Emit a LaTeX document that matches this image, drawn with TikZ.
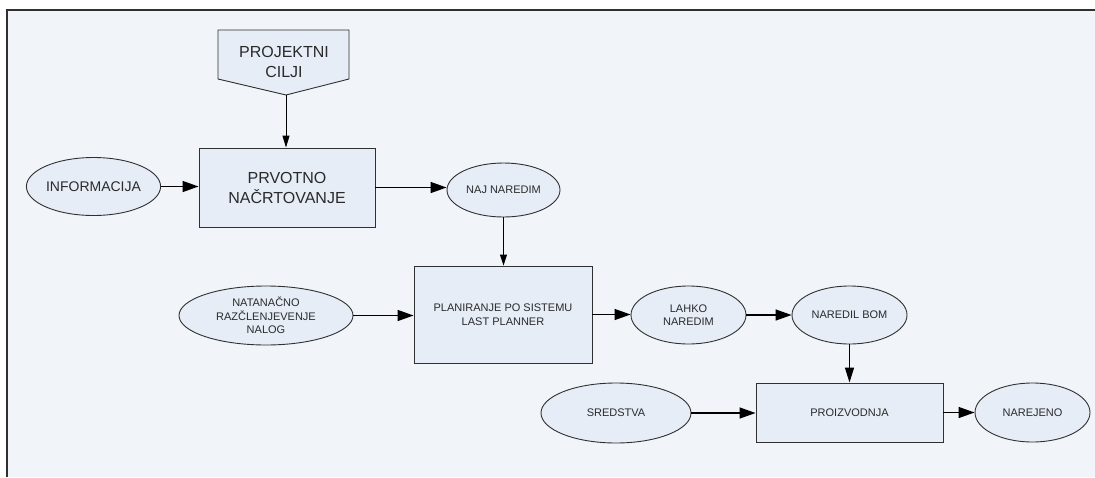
\documentclass[tikz,border=0pt]{standalone}
\usepackage{fontspec}
\setmainfont{Liberation Sans}
\usetikzlibrary{shapes.geometric,arrows.meta}
\definecolor{paper}{HTML}{F1F4F9}
\definecolor{shapefill}{HTML}{E6EDF7}
\definecolor{edge}{HTML}{303030}
\definecolor{ink}{HTML}{2A2A2A}
\tikzset{
  procbox/.style={draw=edge, line width=0.9pt, fill=shapefill, rectangle,
    inner sep=0pt, align=center, text=ink},
  oval/.style={draw=edge, line width=0.9pt, fill=shapefill, ellipse,
    inner sep=0pt, align=center, text=ink},
  bigtext/.style={font=\fontsize{16}{20}\selectfont},
  midtext/.style={font=\fontsize{14}{17}\selectfont},
  smalltext/.style={font=\fontsize{11}{13.5}\selectfont},
  flow/.style={draw=black, line width=1.4pt,
    -{Triangle[length=16pt,width=11pt]}},
  thinflow/.style={draw=black, line width=0.9pt,
    -{Triangle[length=11pt,width=7pt]}},
  downflow/.style={draw=black, line width=1.4pt,
    -{Triangle[length=15pt,width=9pt]}},
}
\begin{document}
\begin{tikzpicture}[x=1pt,y=-1pt]
  \useasboundingbox (0,0) rectangle (1095,477);
  % sheet and its frame
  \fill[white] (0,0) rectangle (1095,477);
  \fill[paper] (7,10) rectangle (1095,477);
  \draw[edge, line width=1.4pt] (7,477) -- (7,10) -- (1095,10);

  % project goals: off-page connector shape
  \draw[edge, line width=0.9pt, fill=shapefill]
    (218,30) -- (349,30) -- (349,79) -- (286,95) -- (218,79) -- cycle;
  \node[bigtext, align=center, text=ink, inner sep=0pt] (cilji) at (284,61.5)
    {PROJEKTNI\\CILJI};
  \coordinate (ciljitip) at (286,95);

  % first row
  \node[procbox, bigtext, minimum width=176pt, minimum height=79pt]
    (prv) at (287,187.5) {PRVOTNO\\NAČRTOVANJE};
  \node[oval, midtext, minimum width=127pt, minimum height=58pt]
    (info) at (93.5,186.5) {INFORMACIJA};
  \node[oval, smalltext, minimum width=113pt, minimum height=54pt]
    (naj) at (503.5,190) {NAJ NAREDIM};

  % second row
  \node[procbox, smalltext, minimum width=178pt, minimum height=97pt]
    (plan) at (503,314.5) {PLANIRANJE PO SISTEMU\\LAST PLANNER};
  \node[oval, smalltext, minimum width=174pt, minimum height=59pt]
    (nat) at (266,315.5) {NATANAČNO\\RAZČLENJEVENJE\\NALOG};
  \node[oval, smalltext, minimum width=115pt, minimum height=58pt]
    (lahko) at (688.5,315) {LAHKO\\NAREDIM};
  \node[oval, smalltext, minimum width=115pt, minimum height=58pt]
    (bom) at (849.5,315) {NAREDIL BOM};

  % third row
  \node[procbox, smalltext, minimum width=187pt, minimum height=59pt]
    (proiz) at (849.5,412.5) {PROIZVODNJA};
  \node[oval, smalltext, minimum width=150pt, minimum height=60pt]
    (sred) at (616,413) {SREDSTVA};
  \node[oval, smalltext, minimum width=115pt, minimum height=59pt]
    (narejeno) at (1032.5,412.5) {NAREJENO};

  % connectors
  \draw[thinflow, -{Triangle[length=12pt,width=7pt]}]
    (ciljitip) -- (ciljitip |- prv.north);
  \draw[flow] (info.east) -- (info.east -| prv.west);
  \draw[flow] (prv.east) -- (prv.east -| naj.west);
  \draw[thinflow] (naj.south) -- (naj.south |- plan.north);
  \draw[flow] (nat.east) -- (nat.east -| plan.west);
  \draw[flow] (plan.east) -- (plan.east -| lahko.west);
  \draw[flow] (lahko.east) -- (lahko.east -| bom.west);
  \draw[downflow] (bom.south) -- (bom.south |- proiz.north);
  \draw[flow] (sred.east) -- (sred.east -| proiz.west);
  \draw[flow] (proiz.east) -- (proiz.east -| narejeno.west);
\end{tikzpicture}
\end{document}
